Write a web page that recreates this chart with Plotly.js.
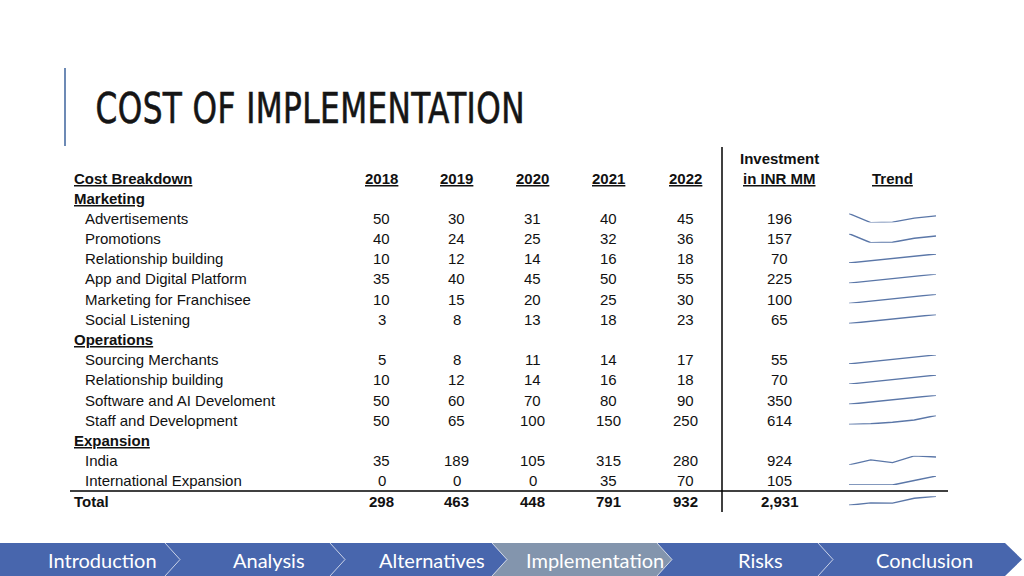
<!DOCTYPE html>
<html>
<head>
<meta charset="utf-8">
<script src="https://cdn.plot.ly/plotly-3.0.1.min.js"></script>
<style>html,body{margin:0;padding:0;background:#fff;}#chart{width:1024px;height:576px;}</style>
</head>
<body>
<div id="chart"></div>
<script>
// ---------- DATA ----------
const years = [2018, 2019, 2020, 2021, 2022];
const sections = ['Marketing', 'Operations', 'Expansion'];
const categories = ['Advertisements', 'Promotions', 'Relationship building', 'App and Digital Platform',
  'Marketing for Franchisee', 'Social Listening', 'Sourcing Merchants', 'Relationship building',
  'Software and AI Develoment', 'Staff and Development', 'India', 'International Expansion'];
const sectionOf = [0, 0, 0, 0, 0, 0, 1, 1, 1, 1, 2, 2];
const v2018 = [50, 40, 10, 35, 10, 3, 5, 10, 50, 50, 35, 0];
const v2019 = [30, 24, 12, 40, 15, 8, 8, 12, 60, 65, 189, 0];
const v2020 = [31, 25, 14, 45, 20, 13, 11, 14, 70, 100, 105, 0];
const v2021 = [40, 32, 16, 50, 25, 18, 14, 16, 80, 150, 315, 35];
const v2022 = [45, 36, 18, 55, 30, 23, 17, 18, 90, 250, 280, 70];
const investment = [196, 157, 70, 225, 100, 65, 55, 70, 350, 614, 924, 105];
const totalByYear = [298, 463, 448, 791, 932];
const totalInvestment = 2931;
const navItems = ['Introduction', 'Analysis', 'Alternatives', 'Implementation', 'Risks', 'Conclusion'];
const activeNav = 3;

// ---------- LAYOUT HELPERS ----------
const W = 1024, H = 576;
const px = x => x / W, py = y => 1 - y / H;
const FONT = 'Liberation Sans, Arial, sans-serif';
const INK = '#111111';
const annotations = [];
const shapes = [];
function txt(x, y, text, o) {
  o = o || {};
  const anchor = o.anchor || 'center';
  annotations.push({
    xref: 'paper', yref: 'paper', x: px(anchor === 'left' ? x - 2 : x), y: py(y), text: text, showarrow: false,
    xanchor: anchor, yanchor: 'middle',
    font: { family: o.family || FONT, size: o.size || 15, color: o.color || INK }
  });
}
const bu = s => '<b><span style="text-decoration:underline">' + s + '</span></b>';
function line(x0, y0, x1, y1, color, width) {
  shapes.push({ type: 'line', xref: 'paper', yref: 'paper', x0: px(x0), y0: py(y0), x1: px(x1), y1: py(y1),
    line: { color: color, width: width } });
}
function poly(pts, fill) {
  const d = pts.map((p, i) => (i ? 'L' : 'M') + px(p[0]) + ',' + py(p[1])).join(' ') + ' Z';
  shapes.push({ type: 'path', xref: 'paper', yref: 'paper', path: d, fillcolor: fill,
    line: { color: 'rgba(0,0,0,0)', width: 0 }, layer: 'below' });
}
function polyline(pts, color, lw) {
  const d = pts.map((p, i) => (i ? 'L' : 'M') + px(p[0]) + ',' + py(p[1])).join(' ');
  shapes.push({ type: 'path', xref: 'paper', yref: 'paper', path: d, line: { color: color, width: lw } });
}

// ---------- TITLE ----------
line(65, 68, 65, 146, '#6d8ab5', 2);
const TITLE = 'COST OF IMPLEMENTATION';
txt(101, 108, TITLE, { anchor: 'left', size: 42, color: '#151515',
  family: 'DejaVu Sans Condensed, DejaVu Sans, sans-serif' });

// ---------- TABLE ----------
const colX = [381.5, 456.5, 532.5, 608.5, 685];
const invX = 779.5, trendX = 892;
const rowY0 = 178, step = 20.19;
const labelX = 74, itemX = 85;

txt(labelX, rowY0, bu('Cost Breakdown'), { anchor: 'left' });
years.forEach((yr, j) => txt(colX[j], rowY0, bu(String(yr))));
txt(invX, rowY0 - 20, '<b>Investment</b>');
txt(invX, rowY0, bu('in INR MM'));
txt(trendX, rowY0, bu('Trend'));

const traces = [];
const layoutAxes = {};
let axisN = 2;
function sparkline(values, yc) {
  const lo = Math.min.apply(null, values), hi = Math.max.apply(null, values);
  const n = axisN++;
  traces.push({ type: 'scatter', mode: 'lines', x: years, y: values, xaxis: 'x' + n, yaxis: 'y' + n,
    line: { color: '#5b77a8', width: 1.4 }, hoverinfo: 'skip', showlegend: false });
  layoutAxes['xaxis' + n] = { domain: [px(849), px(936)], range: [years[0], years[years.length - 1]], visible: false, fixedrange: true };
  layoutAxes['yaxis' + n] = { domain: [py(yc + 4.5), py(yc - 4.5)], range: [lo, hi], visible: false, fixedrange: true };
}

let r = 1;
let lastSection = -1;
const yearCols = [v2018, v2019, v2020, v2021, v2022];
categories.forEach((cat, i) => {
  if (sectionOf[i] !== lastSection) {
    lastSection = sectionOf[i];
    txt(labelX, rowY0 + r * step, bu(sections[lastSection]), { anchor: 'left' });
    r++;
  }
  const y = rowY0 + r * step;
  txt(itemX, y, cat, { anchor: 'left' });
  const vals = yearCols.map(col => col[i]);
  vals.forEach((v, j) => txt(colX[j], y, String(v)));
  txt(invX, y, investment[i].toLocaleString('en-US'));
  sparkline(vals, y - 0.3);
  r++;
});
const totalY = rowY0 + r * step;
txt(labelX, totalY, '<b>Total</b>', { anchor: 'left' });
totalByYear.forEach((v, j) => txt(colX[j], totalY, '<b>' + v.toLocaleString('en-US') + '</b>'));
txt(invX, totalY, '<b>' + totalInvestment.toLocaleString('en-US') + '</b>');
sparkline(totalByYear, totalY - 0.3);

line(70, 491, 948, 491, '#000', 1.5);
line(722, 147, 722, 512, '#000', 1.5);

// ---------- NAV BAR ----------
const navTop = 543, navBot = 576, navMid = (navTop + navBot) / 2;
const chevX = [165, 330, 492, 657, 818];
const chevD = 15;
poly([[0, navTop], [1005, navTop], [1022, navMid], [1005, navBot], [0, navBot]], '#4866ad');
const a0 = chevX[activeNav - 1], a1 = chevX[activeNav];
poly([[a0, navTop], [a1, navTop], [a1 + chevD, navMid], [a1, navBot], [a0, navBot], [a0 + chevD, navMid]], '#8395ad');
chevX.forEach(cx => polyline([[cx, navTop], [cx + chevD, navMid], [cx, navBot]], 'rgba(255,255,255,0.7)', 1));
const navCX = [102, 269, 432, 595, 760, 924];
navItems.forEach((t, k) => txt(navCX[k], navMid, t, { size: 20, color: '#ffffff', family: 'Lato, Noto Sans, sans-serif' }));

// ---------- RENDER ----------
const layout = Object.assign({
  width: W, height: H, autosize: false,
  margin: { l: 0, r: 0, t: 0, b: 0, pad: 0 },
  paper_bgcolor: '#ffffff', plot_bgcolor: 'rgba(0,0,0,0)',
  showlegend: false,
  xaxis: { visible: false, domain: [0, 1] }, yaxis: { visible: false, domain: [0, 1] },
  annotations: annotations, shapes: shapes
}, layoutAxes);
Plotly.newPlot('chart', traces, layout, { staticPlot: true, displayModeBar: false }).then(gd => {
  // condense the slide title horizontally to match the narrow display face
  gd.querySelectorAll('text.annotation-text').forEach(t => {
    if (t.textContent === TITLE) {
      t.style.transformBox = 'fill-box';
      t.style.transformOrigin = '0% 50%';
      t.style.transform = 'scaleX(0.825)';
      t.style.letterSpacing = '0.5px';
      t.style.stroke = '#151515';
      t.style.strokeWidth = '0.6px';
    }
  });
});
</script>
</body>
</html>
